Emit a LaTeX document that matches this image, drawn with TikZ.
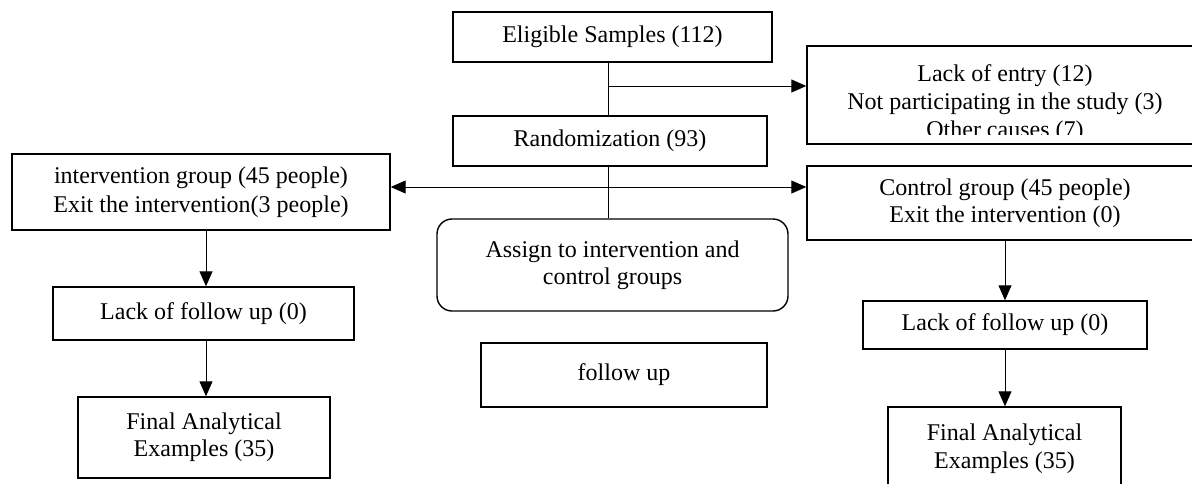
\documentclass[tikz,border=0pt]{standalone}
\usepackage{fontspec}
\setmainfont{Liberation Serif}
\usetikzlibrary{arrows.meta}
\newcommand\fsz{\fontsize{24}{28}\selectfont}
\begin{document}
\begin{tikzpicture}[x=1pt,y=-1pt,
  box/.style={draw, line width=1.4pt, inner sep=0pt, align=center, font=\fsz},
  conn/.style={line width=1pt},
  arr/.style={conn, -{Triangle[length=15pt,width=13pt]}}]
\useasboundingbox (0,0) rectangle (1192,483);
\clip (0,0) rectangle (1192,483);

% centre column
\node[box, minimum width=319pt, minimum height=50pt] (E) at (612.5,37) {Eligible Samples (112)};
\node[box, minimum width=314pt, minimum height=50pt] (R) at (610,141) {Randomization (93)};
\node[box, rounded corners=15pt, minimum width=351pt, minimum height=92pt,
      font=\fontsize{24}{27}\selectfont] (A) at (612.5,265) {Assign to intervention and\\control groups};
\node[box, minimum width=286pt, minimum height=64pt] (F) at (624,375) {follow up};

% exclusion box (text clipped at its lower part)
\node[box, minimum width=396pt, minimum height=98pt] (LE) at (1005,95) {};
\begin{scope}
  \clip (808,47) rectangle (1203,134);
  \node[align=center, font=\fsz, inner sep=0pt] (LEt) at (1005,104)
    {Lack of entry (12)\\Not participating in the study (3)\\Other causes (7)};
\end{scope}

% left column
\node[box, minimum width=378pt, minimum height=76pt, font=\fontsize{24}{29}\selectfont] (I) at (201,192)
  {intervention group (45 people)\\Exit the intervention(3 people)};
\node[box, minimum width=301pt, minimum height=53pt] (L1) at (203.5,313.5) {Lack of follow up (0)};
\node[box, minimum width=252pt, minimum height=81pt, font=\fontsize{24}{27}\selectfont] (G1) at (204,437.5)
  {Final Analytical\\Examples (35)};

% right column
\node[box, minimum width=396pt, minimum height=74pt, font=\fontsize{24}{27}\selectfont] (C) at (1005,203)
  {Control group (45 people)\\Exit the intervention (0)};
\node[box, minimum width=284pt, minimum height=48pt] (L2) at (1005,325) {Lack of follow up (0)};
\node[box, minimum width=233pt, minimum height=84pt, font=\fontsize{24}{28}\selectfont] (G2) at (1004.5,449)
  {Final Analytical\\Examples (35)};

% connectors
\coordinate (b1) at (608,86);
\coordinate (b2) at (608,187);
\coordinate (lx) at (206,0);
\draw[conn] (E.south -| b1) -- (R.north -| b1);
\draw[arr] (b1) -- (b1 -| LE.west);
\draw[conn] (R.south -| b2) -- (A.north -| b2);
\draw[arr] (b2) -- (b2 -| I.east);
\draw[arr] (b2) -- (b2 -| C.west);
\draw[arr] (I.south -| lx) -- (L1.north -| lx);
\draw[arr] (L1.south -| lx) -- (G1.north -| lx);
\draw[arr] (C.south -| L2.north) -- (L2.north);
\draw[arr] (L2.south) -- (G2.north -| L2.south);
\end{tikzpicture}
\end{document}
